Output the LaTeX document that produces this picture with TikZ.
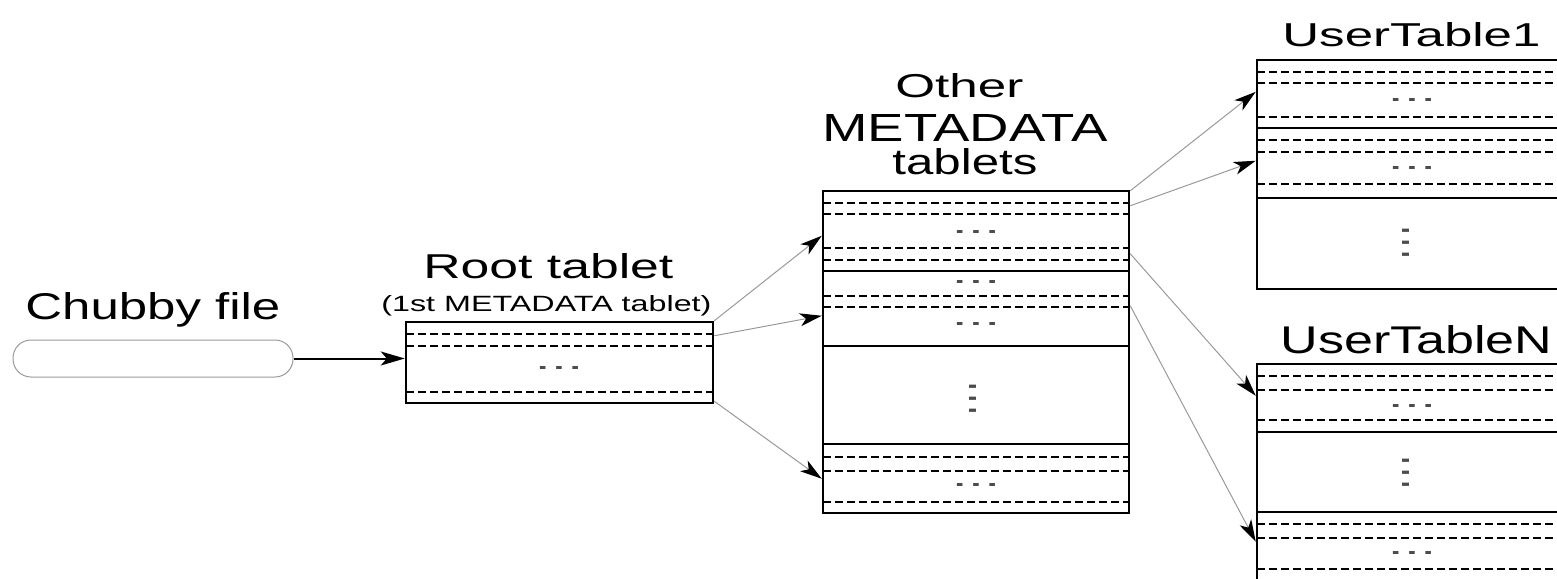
\documentclass[tikz,border=0pt]{standalone}
\usepackage{fontspec}
\setmainfont{Liberation Sans}
\usetikzlibrary{arrows.meta,calc,fit}
\newdimen\pxu \pxu=0.5pt
\newcommand{\rs}[3]{\resizebox{#1\pxu}{#2\pxu}{#3}}
\newcommand{\hd}{\rs{49}{3}{...}}
\newcommand{\vdt}{\rs{9.5}{7}{.}}
\newcommand{\vd}{\rotatebox{90}{\vdt\hspace{2.5\pxu}\vdt\hspace{2.5\pxu}\vdt}}
\begin{document}
\begin{tikzpicture}[x=0.5pt,y=-0.5pt,
  tbl/.style={draw=black, line width=1.25pt, inner sep=0pt},
  dl/.style={line width=1.1pt, dash pattern=on 4pt off 2pt},
  sl/.style={line width=1.1pt},
  conn/.style={draw=black!40, line width=0.5pt, -{Stealth[length=11pt,width=6.5pt,inset=3pt,black]}},
  carr/.style={draw=black, line width=1pt, -{Stealth[length=12pt,width=7pt,inset=3pt]}},
  lbl/.style={inner sep=0pt, anchor=base west},
  dots/.style={inner sep=0pt, text=black!70}]
\useasboundingbox (0,0) rectangle (1557,578);
\clip (0,0) rectangle (1557,578);

% Chubby file
\node[draw=black!40, line width=0.5pt, rounded corners=9pt, inner sep=0pt, fit={(13,340) (293,377)}] (chubby) {};
\node[lbl] (chubbylbl) at (25,319) {\rs{255}{27}{Chubby file}};

% Root tablet
\node[tbl, fit={(406,322) (713,403)}] (root) {};
\foreach \y in {334,346,392} \draw[dl] (406,\y) -- (713,\y);
\node[dots] (rootd1) at (559,368) {\hd};
\node[lbl] (rootlbl) at (423,278) {\rs{250}{25}{Root tablet}};
\node[lbl] (rootsub) at (381,311) {\rs{330}{16}{(1st METADATA tablet)}};

% Other METADATA tablets
\node[tbl, fit={(823,191) (1129,513)}] (meta) {};
\foreach \y in {203,214,248,260,296,307,457,471,502} \draw[dl] (823,\y) -- (1129,\y);
\foreach \y in {271,346,444} \draw[sl] (823,\y) -- (1129,\y);
\foreach \y/\n in {232/1,282/2,324/3,485/4} \node[dots] (metad\n) at (976,\y) {\hd};
\node[dots] (metav) at (973,399) {\vd};
\node[lbl] (otherlbl) at (895,97) {\rs{128}{24}{Other}};
\node[lbl] (mdlbl) at (822,141) {\rs{285}{27}{METADATA}};
\node[lbl] (tablbl) at (892,174) {\rs{145}{26}{tablets}};

% UserTable1
\node[tbl, fit={(1257,60) (1563,289)}] (ut1) {};
\foreach \y in {72,83,117,140,152,184} \draw[dl] (1257,\y) -- (1563,\y);
\foreach \y in {128,198} \draw[sl] (1257,\y) -- (1563,\y);
\foreach \y/\n in {100/1,168/2} \node[dots] (ut1d\n) at (1412,\y) {\hd};
\node[dots] (ut1v) at (1406,243) {\vd};
\node[lbl] (ut1lbl) at (1282,46) {\rs{258}{24}{UserTable1}};

% UserTableN
\node[tbl, fit={(1257,364) (1563,600)}] (utn) {};
\foreach \y in {376,390,420,524,538,569} \draw[dl] (1257,\y) -- (1563,\y);
\foreach \y in {432,512} \draw[sl] (1257,\y) -- (1563,\y);
\foreach \y/\n in {406/1,553/2} \node[dots] (utnd\n) at (1412,\y) {\hd};
\node[dots] (utnv) at (1406,473) {\vd};
\node[lbl] (utnlbl) at (1280,353) {\rs{272}{28}{UserTableN}};

% connectors
\draw[carr] (chubby.east) -- (chubby.east -| root.west);
\draw[conn] (root.north east) -- ($(meta.north west)+(0,46)$);
\draw[conn] ($(root.north east)+(0,15)$) -- ($(meta.north west)+(0,126)$);
\draw[conn] ($(root.south east)+(0,-3)$) -- ($(meta.north west)+(0,289)$);
\draw[conn] ($(meta.north east)+(0,1)$) -- ($(ut1.north west)+(0,33)$);
\draw[conn] ($(meta.north east)+(0,16)$) -- ($(ut1.north west)+(0,102)$);
\draw[conn] ($(meta.north east)+(0,64)$) -- ($(utn.north west)+(0,33)$);
\draw[conn] ($(meta.north east)+(0,116)$) -- ($(utn.north west)+(0,179)$);
\end{tikzpicture}
\end{document}
